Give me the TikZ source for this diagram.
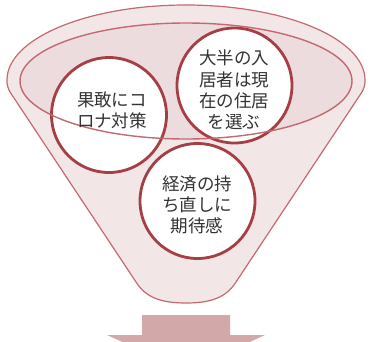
\documentclass[tikz,border=0pt]{standalone}
\usepackage{fontspec}
\newfontfamily\cjk{Noto Sans CJK JP}
\definecolor{funnelfill}{HTML}{F3E6E7}
\definecolor{innerfill}{HTML}{EDDCDE}
\definecolor{funnelline}{HTML}{C26A70}
\definecolor{ringline}{HTML}{A63E46}
\definecolor{arrowfill}{HTML}{D3A8A9}
\definecolor{txtcol}{HTML}{333333}
\tikzset{
  ring/.style={circle, draw=ringline, line width=2.8pt, fill=white, minimum size=115pt, inner sep=0pt},
  ringtext/.style={align=center, text=txtcol, inner sep=0pt, font=\cjk\fontsize{17.5pt}{21.3pt}\selectfont},
  funnelstroke/.style={draw=funnelline, line width=1.2pt}
}
\begin{document}
\begin{tikzpicture}[x=1pt,y=-1pt]
\useasboundingbox (0,0) rectangle (370,341);
\clip (0,0) rectangle (370,341);
% funnel body
\path[fill=funnelfill, funnelstroke]
  (12,95) .. controls (7,88) and (7,84) .. (7,80)
  arc[start angle=180, end angle=360, x radius=179, y radius=75]
  .. controls (365,84) and (365,88) .. (360,95)
  -- (236,282) .. controls (226,298) and (210,303) .. (186,303)
  .. controls (162,303) and (146,298) .. (136,282) -- cycle;
% inner ellipse fill
\fill[innerfill] (186,81) ellipse[x radius=166, y radius=58];
% circles
\node[ring] (c1) at (109,115) {};
\node[ring] (c2) at (234.5,85.5) {};
\node[ring] (c3) at (197.5,201) {};
% inner ellipse stroke on top
\draw[draw=funnelline, line width=1.4pt] (186,81) ellipse[x radius=166, y radius=58];
% texts
\node[ringtext] (t1) at (112,110) {果敢にコ\\ロナ対策};
\node[ringtext] (t2) at (234,90) {大半の入\\居者は現\\在の住居\\を選ぶ};
\node[ringtext] (t3) at (197,205) {経済の持\\ち直しに\\期待感};
% down arrow
\fill[arrowfill] (142,315) -- (230,315) -- (230,335) -- (265,335) -- (186,371) -- (107,335) -- (142,335) -- cycle;
\end{tikzpicture}
\end{document}
